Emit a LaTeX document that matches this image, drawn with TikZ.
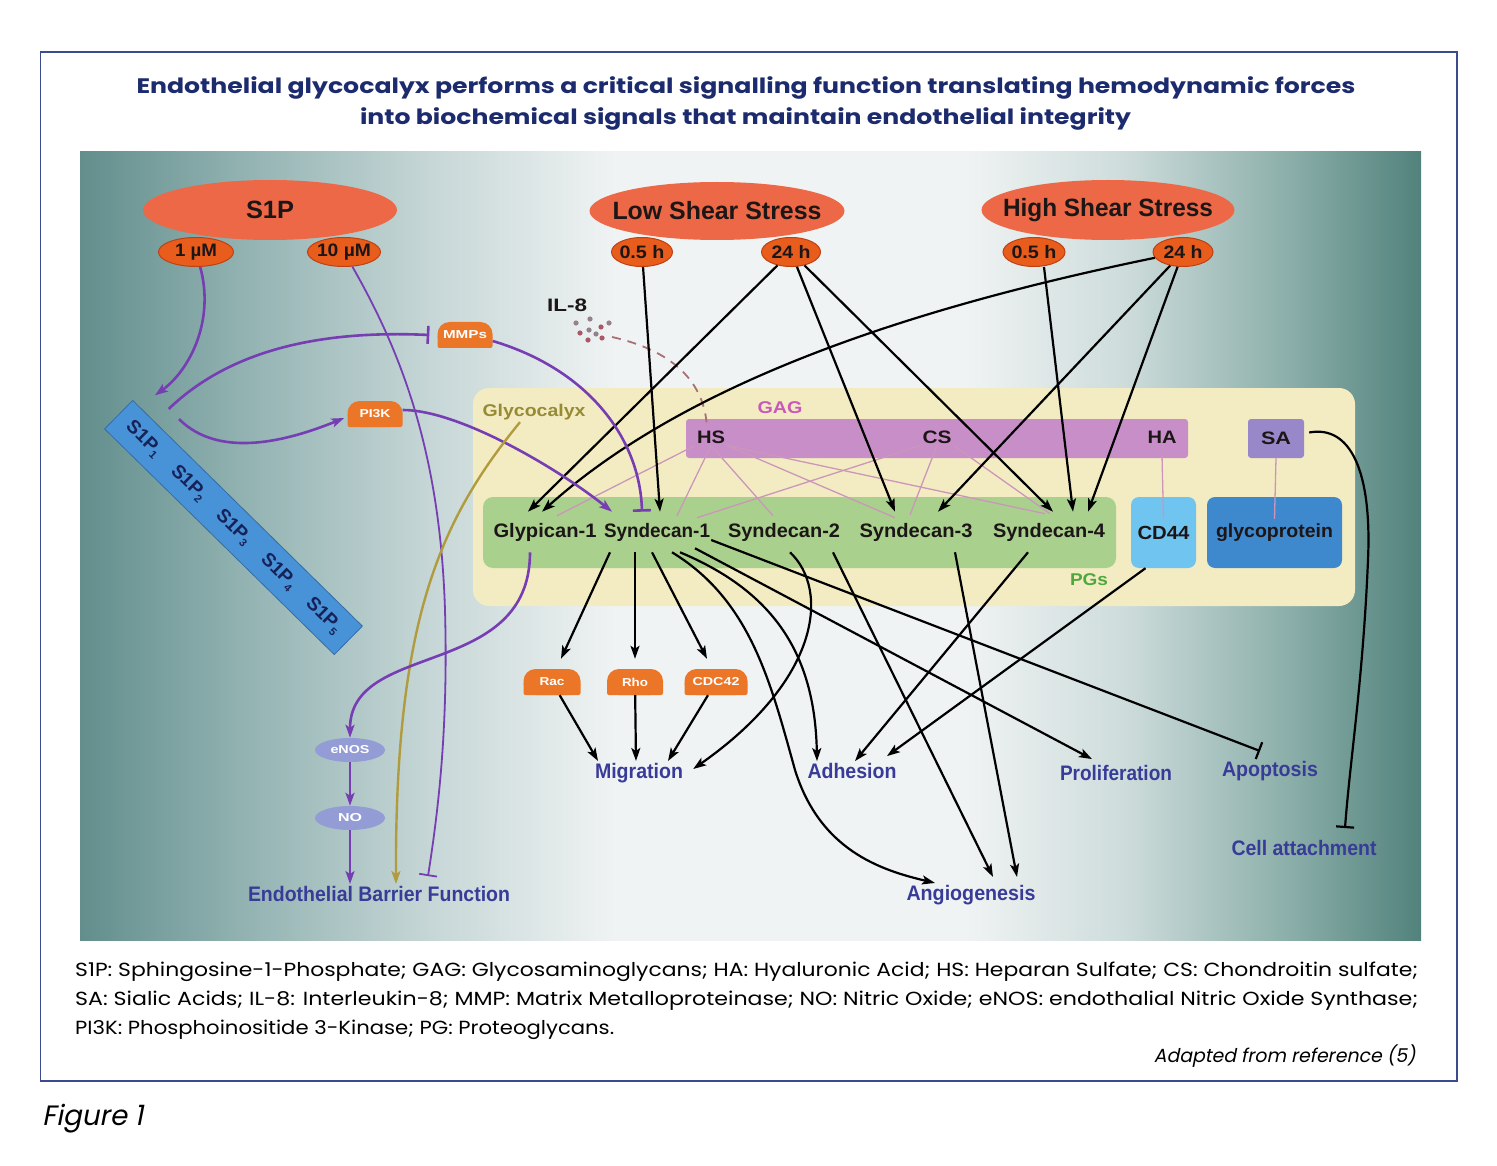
\documentclass[tikz,border=0pt]{standalone}
\usepackage{fontspec}
\usepackage{graphicx}
\usetikzlibrary{shapes.geometric,arrows.meta,calc}
\newfontfamily\lsans{Liberation Sans}
\newfontfamily\pop{Poppins}
\newfontfamily\popsl{Poppins}[FakeSlant=0.2]
\definecolor{navy}{RGB}{28,42,110}
\definecolor{framec}{RGB}{60,75,140}
\definecolor{ellbig}{RGB}{236,104,70}
\definecolor{ellsm}{RGB}{232,92,28}
\definecolor{ellsmd}{RGB}{190,65,20}
\definecolor{enzc}{RGB}{236,118,40}
\definecolor{lav}{RGB}{148,156,214}
\definecolor{purp}{RGB}{118,62,178}
\definecolor{goldc}{RGB}{176,156,62}
\definecolor{ybox}{RGB}{243,236,194}
\definecolor{olive}{RGB}{150,138,52}
\definecolor{gagc}{RGB}{200,142,200}
\definecolor{gagt}{RGB}{200,88,186}
\definecolor{sac}{RGB}{152,136,202}
\definecolor{pgc}{RGB}{170,208,142}
\definecolor{pgt}{RGB}{78,168,62}
\definecolor{cdc}{RGB}{112,196,240}
\definecolor{gpc}{RGB}{62,136,206}
\definecolor{barc}{RGB}{72,146,216}
\definecolor{outc}{RGB}{56,60,152}
\definecolor{pinkl}{RGB}{204,150,186}
\definecolor{txtd}{RGB}{28,22,22}
\definecolor{ild}{RGB}{168,112,118}
\definecolor{dotA}{RGB}{150,128,138}
\definecolor{dotB}{RGB}{172,88,100}
\definecolor{shA}{RGB}{98,142,140}
\definecolor{shB}{RGB}{145,178,177}
\definecolor{shC}{RGB}{198,214,214}
\definecolor{shD}{RGB}{240,243,243}
\definecolor{shE}{RGB}{205,220,219}
\definecolor{shF}{RGB}{140,175,170}
\definecolor{shG}{RGB}{82,130,124}
\pgfdeclarehorizontalshading{panelsh}{100bp}{color(0bp)=(shA); color(25bp)=(shA); color(31bp)=(shB); color(38bp)=(shC); color(45bp)=(shD); color(58bp)=(shD); color(64bp)=(shE); color(70bp)=(shF); color(75bp)=(shG); color(100bp)=(shG)}
\newsavebox\fitbox
\newlength\fitlen
\newcommand\fitw[2]{\sbox\fitbox{#2}\setlength\fitlen{\wd\fitbox}\pgfmathsetmacro\fitsc{#1/\fitlen}\scalebox{\fitsc}[1]{\usebox\fitbox}}
\newcommand\sbsc[1]{\raisebox{-3.5pt}{\fontsize{11}{11}\selectfont #1}}
\newcommand\enz[5]{%
  \fill[enzc, rounded corners=12] (#2-#4/2,#3+13) -- (#2-#4/2,#3-13) -- (#2+#4/2,#3-13) -- (#2+#4/2,#3+13) -- cycle;
  \fill[enzc, rounded corners=2] (#2-#4/2,#3) rectangle (#2+#4/2,#3+13);
  \node[enzt, minimum width=#4] (#1) at (#2,#3) {#5};}
\begin{document}
\begin{tikzpicture}[x=1pt,y=-1pt,
  fs/.style={font=\lsans\bfseries\fontsize{#1}{#1}\selectfont},
  enzt/.style={fs=11.5, text=white, minimum height=26, inner sep=0},
  bigell/.style={ellipse, fill=ellbig, inner sep=0, fs=25, text=txtd},
  smell/.style={ellipse, fill=ellsm, draw=ellsmd, line width=1, inner sep=0, fs=18, text=txtd, minimum height=29},
  lavell/.style={ellipse, fill=lav, inner sep=0, fs=11.5, text=white, minimum width=70, minimum height=24},
  pgl/.style={fs=19.5, text=txtd, inner xsep=1, inner ysep=11},
  outl/.style={fs=21, text=outc, inner sep=2},
  blk/.style={draw=black, line width=2.2, -{Stealth[length=13pt,width=9pt,inset=3pt]}},
  blki/.style={draw=black, line width=2.2, -{Bar[width=18pt]}},
  pur/.style={draw=purp, line width=2.6, -{Stealth[length=13pt,width=9pt,inset=3pt]}},
  puri/.style={draw=purp, line width=2.6, -{Bar[width=18pt]}},
  gld/.style={draw=goldc, line width=2.4, -{Stealth[length=13pt,width=9pt,inset=3pt]}},
  pinkline/.style={draw=pinkl, line width=1.3}
]
\useasboundingbox (0,0) rectangle (1497,1166);
\fill[white] (0,0) rectangle (1497,1166);
\draw[framec, line width=1.6] (40.5,52) rectangle (1457,1081);

% title
\node[font=\pop\bfseries\fontsize{21}{21}\selectfont, text=navy, anchor=base, inner sep=0] (t1) at (746,94) {\fitw{1219}{Endothelial glycocalyx performs a critical signalling function translating hemodynamic forces}};
\node[font=\pop\bfseries\fontsize{21}{21}\selectfont, text=navy, anchor=base, inner sep=0] (t2) at (745.5,125) {\fitw{771}{into biochemical signals that maintain endothelial integrity}};

% panel
\fill[shading=panelsh] (80,152) rectangle (1421,940);

% glycocalyx area
\fill[ybox, rounded corners=16] (473,388) rectangle (1355,606);
\node[fs=17, text=olive, inner sep=2] (glyc) at (534,412) {\fitw{103}{Glycocalyx}};
\node[fill=gagc, rounded corners=3, minimum width=502, minimum height=39, inner sep=0] (gagbar) at (937,438.5) {};
\node[fs=17, text=gagt, inner sep=2] (gag) at (780,408) {\fitw{45}{GAG}};
\node[fs=18, text=txtd, inner sep=2] (hs) at (711,437) {\fitw{28}{HS}};
\node[fs=18, text=txtd, inner sep=2] (cs) at (937,437) {\fitw{29}{CS}};
\node[fs=18, text=txtd, inner sep=2] (ha) at (1162,437) {\fitw{29}{HA}};
\node[fill=sac, rounded corners=3, minimum width=56, minimum height=39, inner sep=0, fs=18, text=txtd] (sa) at (1276,438.5) {\fitw{30}{SA}};
\fill[pgc, rounded corners=10] (483,497) rectangle (1116,568);
\node[fs=17, text=pgt, inner sep=2] (pgs) at (1089,580) {\fitw{38}{PGs}};
\node[fill=cdc, rounded corners=8, minimum width=65, minimum height=71, inner sep=0, fs=19, text=txtd] (cd44) at (1163.5,532.5) {\fitw{52}{CD44}};
\node[fill=gpc, rounded corners=8, minimum width=135, minimum height=71, inner sep=0, fs=19, text=txtd] (gp) at (1274.5,532.5) {\fitw{117}{glycoprotein}};

\node[pgl] (glyp) at (545,532) {\fitw{103}{Glypican-1}};
\node[pgl] (syn1) at (657,532) {\fitw{106}{Syndecan-1}};
\node[pgl] (syn2) at (784,532) {\fitw{112}{Syndecan-2}};
\node[pgl] (syn3) at (916,532) {\fitw{113}{Syndecan-3}};
\node[pgl] (syn4) at (1049,532) {\fitw{112}{Syndecan-4}};

% pink GAG links
\draw[pinkline] (hs.south west) -- ([xshift=12,yshift=-4]glyp.north);
\draw[pinkline] (hs.south) -- ([xshift=20,yshift=-4]syn1.north);
\draw[pinkline] (hs.south) -- ([xshift=-11,yshift=-4]syn2.north);
\draw[pinkline] (hs.south east) -- ([xshift=-21,yshift=-6]syn3.north);
\draw[pinkline] (hs.south east) -- ([xshift=-4,yshift=-2]syn4.north);
\draw[pinkline] (cs.south west) -- ([xshift=40,yshift=-6]syn1.north);
\draw[pinkline] (cs.south) -- ([xshift=-6,yshift=-3]syn3.north);
\draw[pinkline] (cs.south east) -- ([xshift=1,yshift=-2]syn4.north);
\draw[pinkline] ([yshift=-10]ha.south) -- ([yshift=-22]cd44.north);
\draw[pinkline] (sa.south) -- ([yshift=-22]gp.north);

% stimuli
\node[bigell, minimum width=254, minimum height=60] (s1p) at (270,210) {\makebox[0pt]{\fitw{48}{S1P}}};
\node[smell, minimum width=75] (mu1) at (196,252) {\makebox[0pt]{\fitw{42}{1 µM}}};
\node[smell, minimum width=73] (mu10) at (344,252) {\makebox[0pt]{\fitw{54}{10 µM}}};
\node[bigell, minimum width=255, minimum height=58] (lss) at (717,211) {\makebox[0pt]{\fitw{209}{Low Shear Stress}}};
\node[smell, minimum width=61] (lss05) at (642,252) {\makebox[0pt]{\fitw{45}{0.5 h}}};
\node[smell, minimum width=59] (lss24) at (791,252) {\makebox[0pt]{\fitw{39}{24 h}}};
\node[bigell, minimum width=253, minimum height=60] (hss) at (1108,210) {\makebox[0pt]{\fitw{210}{High Shear Stress}}};
\node[smell, minimum width=62] (hss05) at (1034,252) {\makebox[0pt]{\fitw{45}{0.5 h}}};
\node[smell, minimum width=60] (hss24) at (1183,252) {\makebox[0pt]{\fitw{39}{24 h}}};

% IL-8
\node[fs=18, text=txtd, inner sep=1] (il8) at (567,305) {\fitw{40}{IL-8}};
\foreach \px/\py/\c in {576/323/dotA, 590/319/dotA, 601/327/dotB, 609/323/dotA, 580/333/dotB, 589/330/dotA, 588/340/dotB, 602/338/dotB, 596/334/dotA}
  \fill[\c] (\px,\py) circle (2.6);
\coordinate (il8c) at (612,337);
\draw[ild, line width=1.8, dash pattern=on 9pt off 7pt] (il8c) .. controls (670,350) and (705,380) .. ([xshift=-4]hs.north);

% S1P receptors
\node[rotate=-44.5, fill=barc, draw=barc!75!black, line width=0.8, minimum width=322, minimum height=40, inner sep=0, fs=19, text=navy!80!black] (s1pr) at (233.5,527.5)
  {S1P\sbsc{1}\hspace{21pt}S1P\sbsc{2}\hspace{21pt}S1P\sbsc{3}\hspace{21pt}S1P\sbsc{4}\hspace{21pt}S1P\sbsc{5}};

% enzymes
\enz{mmp}{465}{335}{55}{\fitw{44}{MMPs}}
\enz{pi3k}{375}{414}{55}{\fitw{31}{PI3K}}
\enz{rac}{552}{682}{57}{\fitw{25}{Rac}}
\enz{rho}{635}{682}{56}{\fitw{26}{Rho}}
\enz{cdc}{716}{682}{63}{\fitw{47}{CDC42}}
\node[lavell] (enos) at (350,750) {\makebox[0pt]{\fitw{39}{eNOS}}};
\node[lavell] (no) at (350,818) {\makebox[0pt]{\fitw{24}{NO}}};

% outcomes
\node[outl] (ebf) at (379,894) {\fitw{262}{Endothelial Barrier Function}};
\node[outl] (mig) at (639,773) {\fitw{88}{Migration}};
\node[outl] (adh) at (852,771) {\fitw{89}{Adhesion}};
\node[outl] (ang) at (971,895) {\fitw{129}{Angiogenesis}};
\node[outl] (pro) at (1116,773) {\fitw{112}{Proliferation}};
\node[outl] (apo) at (1270,771) {\fitw{96}{Apoptosis}};
\node[outl] (cell) at (1304,848) {\fitw{145}{Cell attachment}};

% shear stress connectors
\draw[blk] (lss05) -- ([xshift=3]syn1.north);
\draw[blk] (lss24) -- ([xshift=-17]glyp.north);
\draw[blk] (lss24) -- ([xshift=-21]syn3.north);
\draw[blk] (lss24) -- ([xshift=4]syn4.north);
\draw[blk] ([xshift=10]hss05.south) -- ([xshift=24]syn4.north);
\draw[blk] (hss24) -- ([xshift=22]syn3.north);
\draw[blk] (hss24) -- ([xshift=39]syn4.north);
\draw[blk] (hss24) .. controls (950,300) and (700,370) .. ([xshift=-3]glyp.north);

% S1P connectors
\draw[pur] (mu1) .. controls (215,320) and (190,370) .. ($(s1pr.north west)!0.04!(s1pr.north east)+(13,-13.5)$);
\draw[puri] ($(s1pr.north west)!0.10!(s1pr.north east)+(13,-13.5)$) .. controls (230,350) and (320,330) .. ([xshift=-8]mmp.west);
\draw[pur] ($(s1pr.north west)!0.145!(s1pr.north east)+(13,-13.5)$) .. controls (220,460) and (290,440) .. ([xshift=-3,yshift=-4]pi3k.west);
\draw[puri] ([yshift=-6]mmp.east) .. controls (590,370) and (640,440) .. ([xshift=-15]syn1.north);
\draw[pur] ([yshift=4]pi3k.east) .. controls (460,410) and (560,470) .. ([xshift=-45]syn1.north);
\draw[puri, line width=1.8] (mu10) .. controls (400,350) and (440,450) .. (445,610) .. controls (448,720) and (440,800) .. ([xshift=49,yshift=8]ebf.north);
\draw[gld] ([xshift=-14]glyc.south) .. controls (440,520) and (395,620) .. ([xshift=17]ebf.north);
\draw[pur] ([xshift=-15]glyp.south) .. controls (530,680) and (350,640) .. (enos.north);
\draw[pur] (enos) -- (no);
\draw[pur] (no) -- ([xshift=-29]ebf.north);

% syndecan outputs
\draw[blk] ([xshift=-47]syn1.south) -- ([xshift=9,yshift=10]rac.north);
\draw[blk] ([xshift=-22]syn1.south) -- ([yshift=10]rho.north);
\draw[blk] ([xshift=-5]syn1.south) -- ([xshift=-9,yshift=10]cdc.north);
\draw[blk] (rac) -- ([xshift=-41]mig.north);
\draw[blk] (rho) -- ([xshift=-3]mig.north);
\draw[blk] (cdc) -- ([xshift=29]mig.north);
\draw[blk] ([xshift=6]syn2.south) .. controls (830,590) and (820,680) .. ([xshift=8,yshift=4]mig.east);
\draw[blk] ([xshift=23]syn1.south) .. controls (770,590) and (815,650) .. ([xshift=-35]adh.north);
\draw[blk] ([xshift=15]syn1.south) .. controls (750,600) and (770,680) .. (795,770) .. controls (820,850) and (880,870) .. ([xshift=-36]ang.north);
\draw[blk] ([xshift=38,yshift=4]syn1.south) -- ([xshift=-24,yshift=4]pro.north);
\draw[blki] ([yshift=-8]syn1.east) -- ([xshift=-10,yshift=8]apo.north);
\draw[blk] ([xshift=49]syn2.south) -- ([xshift=22,yshift=6]ang.north);
\draw[blk] ([xshift=39]syn3.south) -- ([xshift=46,yshift=6]ang.north);
\draw[blk] ([xshift=-21]syn4.south) -- ([xshift=3]adh.north);
\draw[blk] ([xshift=-18]cd44.south) -- ([xshift=35,yshift=5]adh.north);
\draw[blki] ([xshift=5,yshift=6]sa.east) .. controls (1350,425) and (1372,470) .. (1368,560) .. controls (1363,680) and (1350,760) .. ([xshift=41,yshift=10]cell.north);

% caption
\node[font=\pop\fontsize{19}{19}\selectfont, anchor=base west, inner sep=0] (cap1) at (75,976) {\fitw{1343}{S1P: Sphingosine-1-Phosphate; GAG: Glycosaminoglycans; HA: Hyaluronic Acid; HS: Heparan Sulfate; CS: Chondroitin sulfate;}};
\node[font=\pop\fontsize{19}{19}\selectfont, anchor=base west, inner sep=0] (cap2) at (75,1005) {\fitw{1343}{SA: Sialic Acids; IL-8: Interleukin-8; MMP: Matrix Metalloproteinase; NO: Nitric Oxide; eNOS: endothalial Nitric Oxide Synthase;}};
\node[font=\pop\fontsize{19}{19}\selectfont, anchor=base west, inner sep=0] (cap3) at (75,1034) {\fitw{539}{PI3K: Phosphoinositide 3-Kinase; PG: Proteoglycans.}};
\node[font=\popsl\fontsize{19}{19}\selectfont, anchor=base east, inner sep=0] (adapt) at (1416,1062) {\fitw{262}{Adapted from reference (5)}};
\node[font=\popsl\fontsize{28}{28}\selectfont, anchor=base west, inner sep=0] (fig) at (42,1125) {\fitw{101}{Figure 1}};
\end{tikzpicture}
\end{document}
